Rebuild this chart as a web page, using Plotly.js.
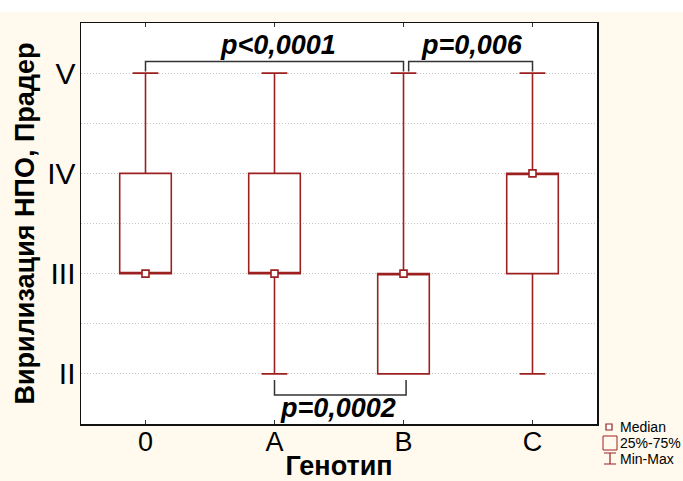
<!DOCTYPE html>
<html><head><meta charset="utf-8">
<script src="https://cdn.plot.ly/plotly-3.0.1.min.js"></script>
<style>html,body{margin:0;padding:0;background:#fff;}</style>
</head><body>
<div id="chart" style="width:683px;height:481px;"></div>
<script>
// ---- data ----
const genotypes = ['0', 'A', 'B', 'C'];
const minVals    = [3, 2, 2, 2];
const q1Vals     = [3, 3, 2, 3];
const medianVals = [3, 3, 3, 4];
const q3Vals     = [4, 4, 3, 4];
const maxVals    = [5, 5, 5, 5];
const yTickVals  = [2, 2.5, 3, 3.5, 4, 4.5, 5];
const yTickText  = ['II', '', 'III', '', 'IV', '', 'V'];
const pLabels    = ['p<0,0001', 'p=0,006', 'p=0,0002'];
const legendLabels = ['Median', '25%-75%', 'Min-Max'];

const W = 683, H = 481, L = 81, R = 86, T = 23, B = 57;
const pw = W - L - R, ph = H - T - B;
const px = x => (x - L) / pw;          // pixel -> paper x
const py = y => (H - B - y) / ph;      // pixel -> paper y

const red = '#9c2020';
const traces = [
  {
    type: 'box', x: genotypes, q1: q1Vals, median: medianVals, q3: q3Vals,
    lowerfence: minVals, upperfence: maxVals,
    width: 0.4, whiskerwidth: 0.5, boxpoints: false,
    fillcolor: 'rgba(255,255,255,0)', line: {color: red, width: 1.6},
    hoverinfo: 'skip', showlegend: false
  },
  {
    type: 'scatter', mode: 'markers', x: genotypes, y: medianVals,
    marker: {symbol: 'square', size: 7, color: '#fff', line: {color: red, width: 1.6}},
    showlegend: false, hoverinfo: 'skip'
  }
];

// brackets (data coords)
const bTop = 5.115, bLeg = 5.015, bBot = 1.79, bBotLeg = 1.94;
const bc = '#333';
const shapes = [
  {type: 'rect', xref: 'paper', yref: 'paper', x0: px(0), x1: px(W), y0: py(12), y1: py(0), fillcolor: '#fff', line: {width: 0}, layer: 'below'},
  {type: 'path', xref: 'x', yref: 'y', path: `M0,${bLeg} L0,${bTop} L2,${bTop} L2,${bLeg}`, line: {color: bc, width: 1.5}},
  {type: 'path', xref: 'x', yref: 'y', path: `M2.04,${bLeg} L2.04,${bTop} L3,${bTop} L3,${bLeg}`, line: {color: bc, width: 1.5}},
  {type: 'path', xref: 'x', yref: 'y', path: `M1,${bBotLeg} L1,${bBot} L2.02,${bBot} L2.02,${bBotLeg}`, line: {color: bc, width: 1.5}},
  // legend icons
  {type: 'rect', xref: 'paper', yref: 'paper', x0: px(606), x1: px(612), y0: py(430), y1: py(424), line: {color: red, width: 1.2}, fillcolor: '#fff'},
  {type: 'rect', xref: 'paper', yref: 'paper', x0: px(603), x1: px(617), y0: py(450), y1: py(436), line: {color: red, width: 1}, fillcolor: 'rgba(0,0,0,0)'},
  {type: 'path', xref: 'paper', yref: 'paper', path: `M${px(604)},${py(453)} L${px(616)},${py(453)} M${px(610)},${py(453)} L${px(610)},${py(464)} M${px(604)},${py(464)} L${px(616)},${py(464)}`, line: {color: red, width: 1.2}}
];

const pFont = {family: 'Liberation Sans, Arial, sans-serif', size: 27, color: '#000', weight: 'bold', style: 'italic'};
const annotations = [
  {xref: 'x', yref: 'paper', x: 1.03, y: py(45), text: pLabels[0], showarrow: false, font: pFont, yanchor: 'middle'},
  {xref: 'x', yref: 'paper', x: 2.53, y: py(45), text: pLabels[1], showarrow: false, font: pFont, yanchor: 'middle'},
  {xref: 'x', yref: 'paper', x: 1.49, y: py(408), text: pLabels[2], showarrow: false, font: pFont, yanchor: 'middle'}
];
const legFont = {family: 'Liberation Sans, Arial, sans-serif', size: 14, color: '#000'};
[427, 443, 459].forEach((yy, i) => {
  annotations.push({xref: 'paper', yref: 'paper', x: px(618), y: py(yy), xanchor: 'left', yanchor: 'middle',
    text: legendLabels[i], showarrow: false, font: legFont});
});

const layout = {
  width: W, height: H,
  margin: {l: L, r: R, t: T, b: B, pad: 0},
  paper_bgcolor: '#fff9ee', plot_bgcolor: '#fff',
  showlegend: false,
  font: {family: 'Liberation Sans, Arial, sans-serif', color: '#000'},
  xaxis: {
    type: 'category', range: [-0.5, 3.5], showgrid: false, zeroline: false,
    showline: true, linecolor: '#111', linewidth: 1.5, mirror: 'ticks',
    ticks: 'inside', ticklen: 4, tickwidth: 1.5, tickcolor: '#333',
    tickfont: {size: 27, color: '#000'}, ticklabelstandoff: -7,
    title: {text: 'Генотип', font: {size: 27, weight: 'bold', color: '#000'}, standoff: 0}
  },
  yaxis: {
    range: [1.5, 5.5], tickmode: 'array', tickvals: yTickVals, ticktext: yTickText,
    showgrid: true, gridcolor: '#c4c4c4', griddash: '1px,2px', gridwidth: 1, zeroline: false,
    showline: true, linecolor: '#111', linewidth: 1.5, mirror: true, ticks: '',
    tickfont: {size: 30, color: '#000'}, ticklabelstandoff: -2,
    title: {text: 'Вирилизация НПО, Прадер', font: {size: 27, weight: 'bold', color: '#000'}, standoff: 4}
  },
  shapes: shapes,
  annotations: annotations
};

Plotly.newPlot('chart', traces, layout, {displayModeBar: false, staticPlot: true});
</script>
</body></html>
